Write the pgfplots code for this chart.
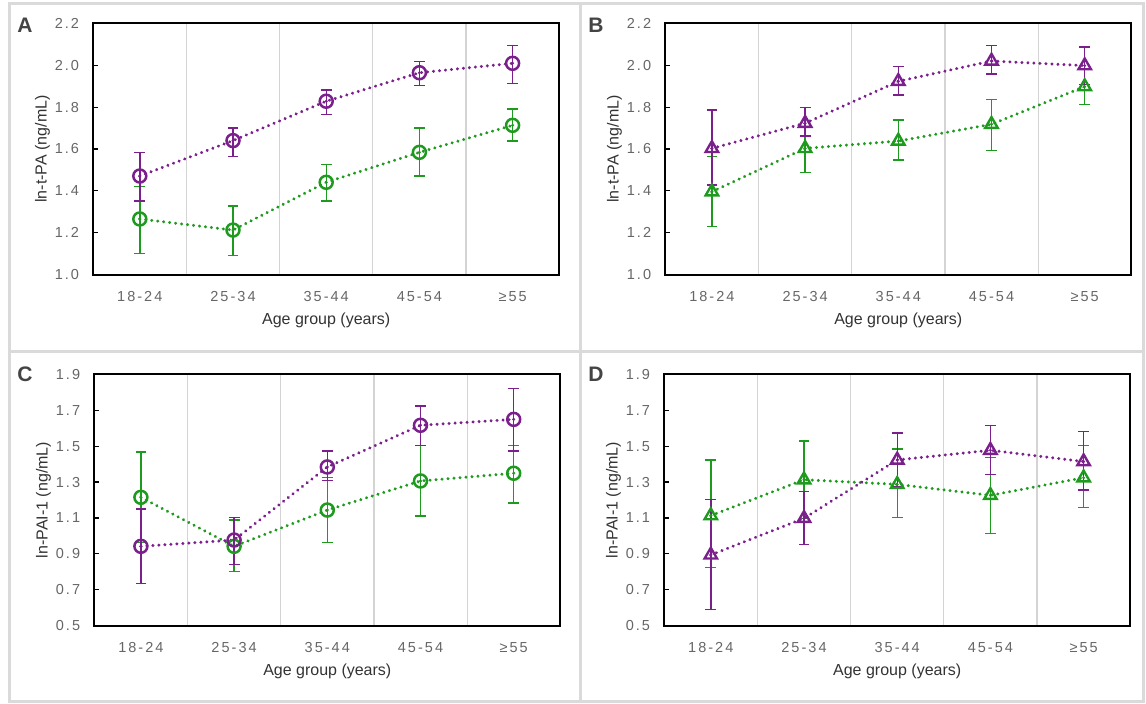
\documentclass[border=0pt]{standalone}
\usepackage{pgfplots}
\pgfplotsset{compat=1.18}
\usepackage{fontspec}
\setmainfont{Liberation Sans}
\newfontfamily\tickfont[LetterSpace=14]{Liberation Sans}
\definecolor{cpurple}{HTML}{7A1F8C}
\definecolor{cgreen}{HTML}{1E9A1E}
\definecolor{tickgray}{HTML}{666666}
\definecolor{labgray}{HTML}{333333}
\definecolor{gridgray}{HTML}{D4D4D4}
\definecolor{framegray}{HTML}{DADADA}
\definecolor{lettergray}{HTML}{444444}

\pgfplotstableread{
x y ep em
0 1.471 0.113 0.119
1 1.640 0.060 0.077
2 1.828 0.054 0.062
3 1.964 0.055 0.062
4 2.009 0.086 0.097
}\Apurple
\pgfplotstableread{
x y ep em
0 1.266 0.154 0.166
1 1.213 0.115 0.121
2 1.441 0.084 0.089
3 1.584 0.116 0.113
4 1.713 0.078 0.075
}\Agreen
\pgfplotstableread{
x y ep em
0 1.603 0.183 0.175
1 1.723 0.074 0.061
2 1.923 0.072 0.065
3 2.020 0.073 0.062
4 1.998 0.089 0.089
}\Bpurple
\pgfplotstableread{
x y ep em
0 1.396 0.167 0.167
1 1.603 0.059 0.116
2 1.638 0.100 0.090
3 1.718 0.119 0.124
4 1.898 0.085 0.085
}\Bgreen
\pgfplotstableread{
x y ep em
0 0.942 0.208 0.208
1 0.977 0.126 0.135
2 1.384 0.089 0.075
3 1.616 0.108 0.113
4 1.649 0.173 0.176
}\Cpurple
\pgfplotstableread{
x y ep em
0 1.215 0.252 0.252
1 0.942 0.147 0.141
2 1.144 0.180 0.182
3 1.306 0.197 0.195
4 1.349 0.154 0.166
}\Cgreen
\pgfplotstableread{
x y ep em
0 0.894 0.308 0.303
1 1.098 0.148 0.145
2 1.423 0.150 0.150
3 1.477 0.139 0.134
4 1.414 0.169 0.158
}\Dpurple
\pgfplotstableread{
x y ep em
0 1.113 0.310 0.290
1 1.313 0.216 0.216
2 1.287 0.197 0.184
3 1.226 0.212 0.212
4 1.324 0.179 0.167
}\Dgreen

\pgfplotsset{
  panel/.style={
    width=466pt, height=251.4pt, scale only axis,
    anchor=south west,
    xmin=-0.5, xmax=4.5,
    xtick={0,...,4},
    xticklabels={18-24,25-34,35-44,45-54,≥55},
    minor xtick={0.5,1.5,2.5,3.5},
    xminorgrids,
    minor grid style={gridgray, line width=1.2pt},
    xtick style={draw=none},
    ytick pos=left,
    tick align=inside,
    major tick length=4.5pt,
    ytick style={black, line width=1.1pt},
    axis line style={black, line width=1.7pt},
    /pgf/number format/assume math mode=true,
    /pgf/number format/fixed,
    /pgf/number format/fixed zerofill,
    /pgf/number format/precision=1,
    yticklabel style={font=\fontsize{14.5}{14.5}\tickfont, text=tickgray, anchor=east, inner sep=0pt, xshift=-14pt},
    xticklabel style={font=\fontsize{14.5}{14.5}\tickfont, text=tickgray, anchor=base, inner sep=0pt, yshift=-26.5pt},
    xlabel={Age group (years)},
    xlabel style={font=\fontsize{16}{16}\selectfont, text=labgray, at={(axis description cs:0.5,0)}, anchor=center, yshift=-46pt},
    ylabel style={font=\fontsize{16}{16}\selectfont, text=labgray, at={(axis description cs:-0.1088,0.5)}, anchor=center},
    clip=false,
  },
  ser/.style={
    color=#1,
    line width=3.3pt, line cap=round,
    dash pattern=on 0.01pt off 6pt,
    error bars/y dir=both, error bars/y explicit,
    error bars/error bar style={solid, line width=1.4pt, line cap=butt, color=#1},
    error bars/error mark options={solid, line width=1.4pt, mark size=5.4pt, color=#1, rotate=90},
  },
  circ/.style={mark=o, mark size=6.5pt, mark options={solid, line width=2.5pt, fill=white}},
  tri/.style={mark=triangle, mark size=7.2pt, mark options={solid, line width=2.4pt, fill=white}},
  dotc/.style={only marks, mark=*, mark size=1.3pt, color=#1, forget plot},
}

\begin{document}
\begin{tikzpicture}
\path[use as bounding box] (0pt,0pt) rectangle (1146pt,704pt);
% panel frames
\draw[framegray, line width=3pt] (9.5pt,700.5pt) rectangle (1143.5pt,2.5pt);
\draw[framegray, line width=3pt] (580pt,700.5pt) -- (580pt,2.5pt);
\draw[framegray, line width=3pt] (9.5pt,352.3pt) -- (1143.5pt,352.3pt);
% panel letters
\node[font=\fontsize{21}{21}\bfseries, text=lettergray] at (25pt,679pt) {A};
\node[font=\fontsize{21}{21}\bfseries, text=lettergray] at (596pt,679pt) {B};
\node[font=\fontsize{21}{21}\bfseries, text=lettergray] at (25pt,330pt) {C};
\node[font=\fontsize{21}{21}\bfseries, text=lettergray] at (596pt,330pt) {D};

% A
\begin{axis}[panel, at={(93.2pt,429.3pt)}, ymin=1.0, ymax=2.2, ytick={1.0,1.2,...,2.21}, ylabel={ln-t-PA (ng/mL)}]
\addplot[ser=cgreen, circ] table[x=x, y=y, y error plus=ep, y error minus=em]{\Agreen};
\addplot[dotc=cgreen] table[x=x, y=y]{\Agreen};
\addplot[ser=cpurple, circ] table[x=x, y=y, y error plus=ep, y error minus=em]{\Apurple};
\addplot[dotc=cpurple] table[x=x, y=y]{\Apurple};
\end{axis}

% B
\begin{axis}[panel, at={(665.3pt,429.3pt)}, ymin=1.0, ymax=2.2, ytick={1.0,1.2,...,2.21}, ylabel={ln-t-PA (ng/mL)}]
\addplot[ser=cgreen, tri] table[x=x, y=y, y error plus=ep, y error minus=em]{\Bgreen};
\addplot[dotc=cgreen] table[x=x, y=y]{\Bgreen};
\addplot[ser=cpurple, tri] table[x=x, y=y, y error plus=ep, y error minus=em]{\Bpurple};
\addplot[dotc=cpurple] table[x=x, y=y]{\Bpurple};
\end{axis}

% C
\begin{axis}[panel, at={(94.3pt,78.3pt)}, ymin=0.5, ymax=1.9, ytick={0.5,0.7,...,1.91}, ylabel={ln-PAI-1 (ng/mL)}]
\addplot[ser=cgreen, circ] table[x=x, y=y, y error plus=ep, y error minus=em]{\Cgreen};
\addplot[dotc=cgreen] table[x=x, y=y]{\Cgreen};
\addplot[ser=cpurple, circ] table[x=x, y=y, y error plus=ep, y error minus=em]{\Cpurple};
\addplot[dotc=cpurple] table[x=x, y=y]{\Cpurple};
\end{axis}

% D
\begin{axis}[panel, at={(664.2pt,78.3pt)}, ymin=0.5, ymax=1.9, ytick={0.5,0.7,...,1.91}, ylabel={ln-PAI-1 (ng/mL)}]
\addplot[ser=cgreen, tri] table[x=x, y=y, y error plus=ep, y error minus=em]{\Dgreen};
\addplot[dotc=cgreen] table[x=x, y=y]{\Dgreen};
\addplot[ser=cpurple, tri] table[x=x, y=y, y error plus=ep, y error minus=em]{\Dpurple};
\addplot[dotc=cpurple] table[x=x, y=y]{\Dpurple};
\end{axis}
\end{tikzpicture}
\end{document}
